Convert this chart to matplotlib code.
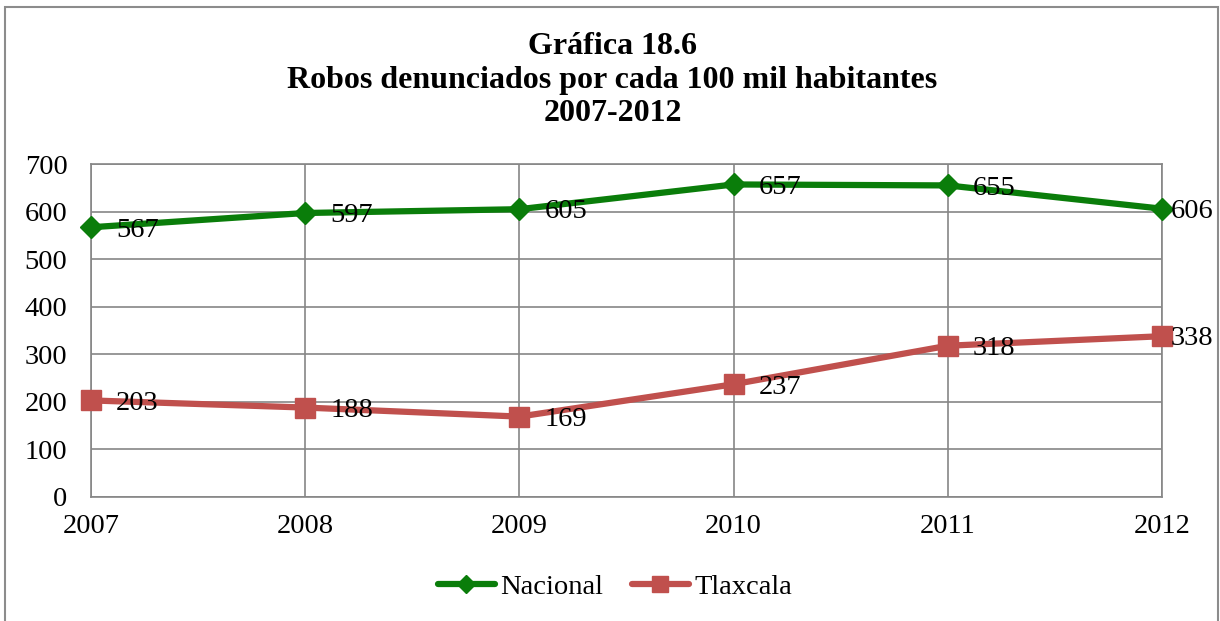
import matplotlib.pyplot as plt
from matplotlib.patches import Rectangle

plt.rcParams['font.family'] = ['Liberation Serif', 'DejaVu Serif']

years = ['2007', '2008', '2009', '2010', '2011', '2012']
nacional = [567, 597, 605, 657, 655, 606]
tlaxcala = [203, 188, 169, 237, 318, 338]
yticks = [0, 100, 200, 300, 400, 500, 600, 700]

green = '#0a7d0a'
red = '#c0504d'
gray = '#868686'
fs = 20.5

fig = plt.figure(figsize=(12.2, 6.21), dpi=100)
ax = fig.add_axes([0.0746, 0.1997, 0.8779, 0.5362])

# outer chart border
fig.patches.append(Rectangle((5 / 1220, -0.05), 1213 / 1220, 1.05 - 6.5 / 621,
                             transform=fig.transFigure, fill=False,
                             edgecolor='#8c8c8c', linewidth=1.5))

x = list(range(len(years)))
ax.plot(x, nacional, color=green, linewidth=4.5, marker='D', markersize=11,
        label='Nacional', solid_capstyle='round', clip_on=False, zorder=3)
ax.plot(x, tlaxcala, color=red, linewidth=4.5, marker='s', markersize=14,
        label='Tlaxcala', solid_capstyle='round', clip_on=False, zorder=3)

for series in (nacional, tlaxcala):
    for i, v in enumerate(series):
        dx = 18 if i < len(series) - 1 else 6
        ax.annotate(str(v), (i, v), xytext=(dx, -2), textcoords='offset points',
                    ha='left', va='center', fontsize=fs, zorder=4)

ax.set_xlim(0, len(years) - 1)
ax.set_ylim(0, 700)
ax.set_xticks(x)
ax.set_xticklabels(years)
ax.set_yticks(yticks)
ax.tick_params(length=0, labelsize=fs)
ax.tick_params(axis='x', pad=12)
ax.tick_params(axis='y', pad=17)
ax.grid(True, color=gray, linewidth=1.2)
ax.set_axisbelow(True)
for s in ax.spines.values():
    s.set_color(gray)
    s.set_linewidth(1.2)

fig.text(0.502, 0.871, 'Gráfica 18.6\nRobos denunciados por cada 100 mil habitantes\n2007-2012',
         ha='center', va='center', fontsize=23, fontweight='bold', linespacing=1.22)

fig.legend(loc='center', bbox_to_anchor=(0.504, 0.055), ncol=2, frameon=False,
           fontsize=fs, handlelength=2.0, handletextpad=0.2, columnspacing=1.0,
           markerscale=0.85)

fig.savefig('out.png', dpi=100)
